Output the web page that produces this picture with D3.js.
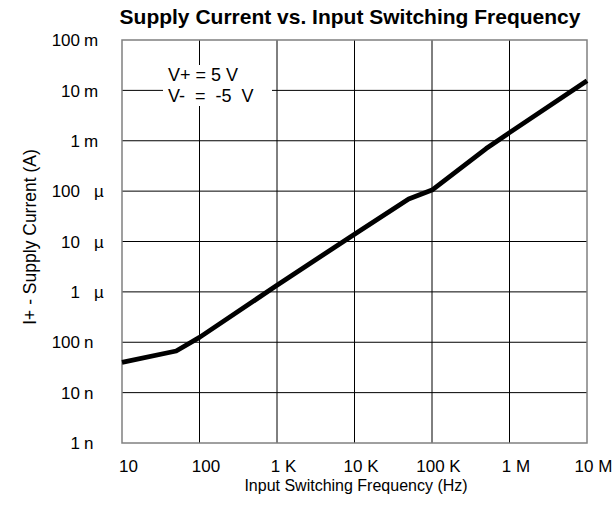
<!DOCTYPE html>
<html>
<head>
<meta charset="utf-8">
<script src="https://cdn.jsdelivr.net/npm/d3@7"></script>
<style>
  body { margin: 0; background: #fff; }
  text { font-family: "Liberation Sans", Arial, sans-serif; fill: #000; }
</style>
</head>
<body>
<div id="chart"></div>
<script>

// data (Hz, A)
var freqHz = [10, 50, 100, 1e3, 1e4, 5e4, 1e5, 5e5, 1e6, 1e7];
var supplyA = [40e-9, 67e-9, 125e-9, 1.35e-6, 14e-6, 70e-6, 105e-6, 700e-6, 1.45e-3, 15.5e-3];

var xTicks = [10, 100, 1e3, 1e4, 1e5, 1e6, 1e7];
var xTickLabels = ["10", "100", "1 K", "10 K", "100 K", "1 M", "10 M"];

var yTicks = [1e-9, 1e-8, 1e-7, 1e-6, 1e-5, 1e-4, 1e-3, 1e-2, 1e-1];
var yTickNums = ["1", "10", "100", "1", "10", "100", "1", "10", "100"];
var yTickUnits = ["n", "n", "n", "\u00b5", "\u00b5", "\u00b5", "m", "m", "m"];

var svgWidth = 613;
var svgHeight = 522;

var margin = {
  top: 40,
  right: 26,
  bottom: 79,
  left: 122
};

var width = svgWidth - margin.left - margin.right;
var height = svgHeight - margin.top - margin.bottom;

var svg = d3.select("#chart")
  .append("svg")
  .attr("width", svgWidth)
  .attr("height", svgHeight);

var chartGroup = svg.append("g")
  .attr("transform", `translate(${margin.left}, ${margin.top})`);

var xScale = d3.scaleLog()
  .domain([10, 1e7])
  .range([0, width]);

var yScale = d3.scaleLog()
  .domain([1e-9, 1e-1])
  .range([height, 0]);

// grid
chartGroup.append("g")
  .selectAll("line")
  .data(xTicks.slice(1, -1))
  .enter()
  .append("line")
  .attr("x1", d => xScale(d))
  .attr("x2", d => xScale(d))
  .attr("y1", 0)
  .attr("y2", height)
  .attr("stroke", "#000")
  .attr("stroke-width", 1);

chartGroup.append("g")
  .selectAll("line")
  .data(yTicks.slice(1, -1))
  .enter()
  .append("line")
  .attr("x1", 0)
  .attr("x2", width)
  .attr("y1", d => yScale(d))
  .attr("y2", d => yScale(d))
  .attr("stroke", "#000")
  .attr("stroke-width", 1);

// frame
chartGroup.append("rect")
  .attr("width", width)
  .attr("height", height)
  .attr("fill", "none")
  .attr("stroke", "#808080")
  .attr("stroke-width", 1.5);

// note box covers grid
var note = chartGroup.append("g");
note.append("rect")
  .attr("x", 41)
  .attr("y", 25)
  .attr("width", 109)
  .attr("height", 41)
  .attr("fill", "#fff");
note.append("text")
  .attr("x", 46)
  .attr("y", 41)
  .attr("font-size", "18px")
  .attr("xml:space", "preserve")
  .text("V+ = 5 V");
note.append("text")
  .attr("x", 46)
  .attr("y", 62)
  .attr("font-size", "18px")
  .attr("xml:space", "preserve")
  .text("V-  =  -5  V");

// curve
var line = d3.line()
  .x(d => xScale(d[0]))
  .y(d => yScale(d[1]));

chartGroup.append("path")
  .datum(d3.zip(freqHz, supplyA))
  .attr("d", line)
  .attr("fill", "none")
  .attr("stroke", "#000")
  .attr("stroke-width", 4.8)
  .attr("stroke-linejoin", "round");

// x axis labels
var bottomAxis = d3.axisBottom(xScale)
  .tickValues(xTicks)
  .tickSize(0)
  .tickPadding(17)
  .tickFormat((d, i) => xTickLabels[i]);

var xAxis = chartGroup.append("g")
  .attr("transform", `translate(0, ${height})`)
  .call(bottomAxis);

xAxis.select(".domain").remove();
xAxis.selectAll("text")
  .attr("font-family", "Liberation Sans, Arial, sans-serif")
  .attr("font-size", "17px")
  .attr("fill", "#000")
  .attr("dx", 6);

// y axis labels: number right aligned, unit after it
var yLabels = chartGroup.append("g")
  .selectAll("g")
  .data(yTicks)
  .enter()
  .append("g")
  .attr("transform", d => `translate(0, ${yScale(d)})`);

yLabels.append("text")
  .attr("x", -42)
  .attr("dy", "0.36em")
  .attr("text-anchor", "end")
  .attr("font-size", "17px")
  .text((d, i) => yTickNums[i]);

yLabels.append("text")
  .attr("x", (d, i) => yTickUnits[i] === "\u00b5" ? -28 : -38)
  .attr("dy", "0.36em")
  .attr("font-size", "17px")
  .attr("font-family", (d, i) => yTickUnits[i] === "\u00b5" ? "Liberation Serif, serif" : null)
  .text((d, i) => yTickUnits[i]);

// titles
svg.append("text")
  .attr("x", 350)
  .attr("y", 24)
  .attr("text-anchor", "middle")
  .attr("font-size", "21px")
  .attr("font-weight", "bold")
  .text("Supply Current vs. Input Switching Frequency");

svg.append("text")
  .attr("x", 356)
  .attr("y", 491)
  .attr("text-anchor", "middle")
  .attr("font-size", "16px")
  .text("Input Switching Frequency (Hz)");

svg.append("text")
  .attr("transform", "rotate(-90)")
  .attr("x", -237)
  .attr("y", 36)
  .attr("text-anchor", "middle")
  .attr("font-size", "17.5px")
  .text("I+ - Supply Current (A)");

</script>
</body>
</html>
